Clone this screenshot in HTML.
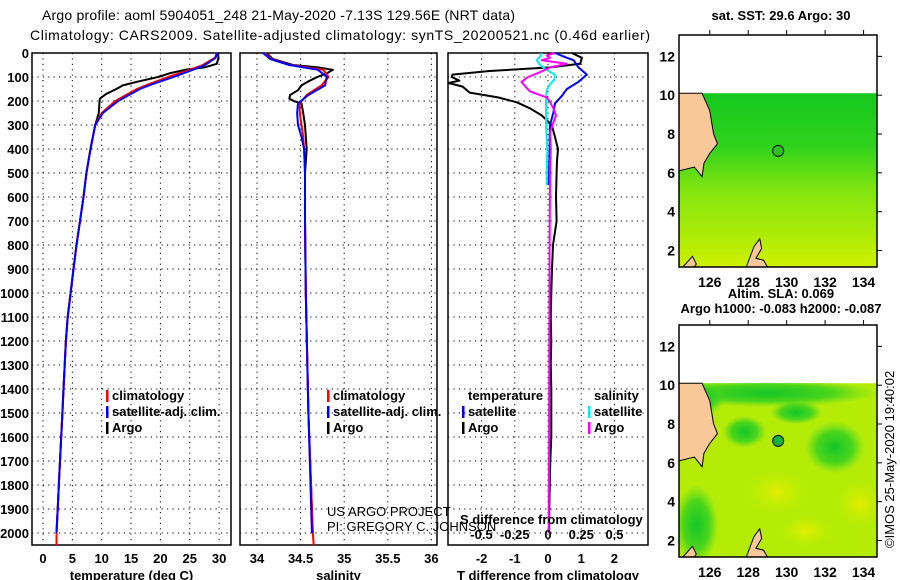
<!DOCTYPE html>
<html><head><meta charset="utf-8"><style>
html,body{margin:0;padding:0;background:#fff;}
svg{display:block;font-family:"Liberation Sans",sans-serif;}
.tk{font-size:13px;font-weight:bold;fill:#000;}
.tt{font-size:14px;fill:#000;}
.lg{font-size:13px;font-weight:bold;fill:#000;}
.grid{stroke:#000;stroke-width:1;stroke-dasharray:1.2 4.2;}
</style></head><body>
<svg id="c" width="900" height="580" viewBox="0 0 900 580" xmlns="http://www.w3.org/2000/svg">
<defs>
<linearGradient id="sstg" x1="0" y1="0" x2="0" y2="1">
<stop offset="0" stop-color="#14c81e"/><stop offset="0.3" stop-color="#2ed21c"/><stop offset="0.55" stop-color="#80e410"/><stop offset="1" stop-color="#cdf000"/>
</linearGradient>
<radialGradient id="y1" cx="0.5" cy="0.5" r="0.5"><stop offset="0" stop-color="#e4ec00"/><stop offset="1" stop-color="#c8f000" stop-opacity="0"/></radialGradient>
<radialGradient id="g1" cx="0.5" cy="0.5" r="0.5"><stop offset="0" stop-color="#12c42a"/><stop offset="0.6" stop-color="#30d020" stop-opacity="0.8"/><stop offset="1" stop-color="#50d820" stop-opacity="0"/></radialGradient>
<clipPath id="fieldclip"><rect x="679" y="383" width="198" height="174"/></clipPath>
</defs>
<text class="tt" x="42" y="20" textLength="473">Argo profile: aoml 5904051_248 21-May-2020 -7.13S 129.56E (NRT data)</text>
<text class="tt" x="30" y="40" textLength="620">Climatology: CARS2009. Satellite-adjusted climatology: synTS_20200521.nc (0.46d earlier)</text>
<g id="panels"></g>
<g id="maps"></g>
<text x="894" y="548" transform="rotate(-90 894 548)" style="font-size:13px">©IMOS 25-May-2020 19:40:02</text>
</svg>
<script>
// depth levels (dbar)
const depthTicks=[0,100,200,300,400,500,600,700,800,900,1000,1100,1200,1300,1400,1500,1600,1700,1800,1900,2000];
const tempTicks=[0,5,10,15,20,25,30];
const salTicks=[34,34.5,35,35.5,36];
const salTickLabels=["34","34.5","35","35.5","36"];
const tdTicks=[-2,-1,0,1,2];
const sdTicks=[-0.5,-0.25,0,0.25,0.5];
const sdTickLabels=["-0.5","-0.25","0","0.25","0.5"];

// temperature profiles
const tArgoD=[0,20,45,60,70,85,100,120,135,150,170,190,210,250,300,400,500,600,700,800,900,1000,1100,1200,1300,1400,1500,1600,1700,1800,1900,2000];
const tArgoV=[29.8,29.9,29.6,27.5,24.2,21.5,19.6,16,13.6,12.5,10.8,9.7,9.6,9.5,8.9,8.1,7.4,6.9,6.3,5.7,5.2,4.7,4.2,3.9,3.7,3.5,3.3,3.1,2.9,2.7,2.5,2.3];
const tClimD=[0,20,50,70,100,130,150,200,250,300,400,500,600,700,800,900,1000,1100,1200,1300,1400,1500,1600,1700,1800,1900,2000,2050];
const tClimV=[29.6,29.3,27.2,25,21.3,18,16,12.3,10,8.9,8.1,7.4,6.9,6.3,5.7,5.2,4.7,4.2,3.9,3.7,3.5,3.3,3.1,2.9,2.7,2.5,2.3,2.3];
const tSatD=[0,20,50,70,100,130,150,200,250,300,400,500,600,700,800,900,1000,1100,1200,1300,1400,1500,1600,1700,1800,1900,2000];
const tSatV=[29.7,29.4,27.6,25.5,22.2,18.6,16.5,12.8,10.2,8.9,8.1,7.4,6.9,6.3,5.7,5.2,4.7,4.2,3.9,3.7,3.5,3.3,3.1,2.9,2.7,2.5,2.3];

// salinity profiles
const sArgoD=[0,25,50,60,70,85,100,120,135,155,175,190,200,210,250,300,350,400,500,700,1000,1500,2000];
const sArgoV=[34.11,34.18,34.41,34.7,34.87,34.8,34.69,34.58,34.51,34.47,34.38,34.37,34.42,34.51,34.53,34.55,34.56,34.57,34.55,34.55,34.56,34.59,34.64];
const sClimD=[0,25,50,70,100,135,175,210,250,300,350,400,500,700,1000,1500,2000,2050];
const sClimV=[34.09,34.16,34.38,34.76,34.82,34.74,34.57,34.49,34.49,34.51,34.53,34.54,34.55,34.55,34.56,34.59,34.64,34.65];
const sSatD=[0,25,50,70,100,135,175,210,250,300,350,400,500,700,1000,1500,2000];
const sSatV=[34.07,34.15,34.37,34.7,34.8,34.78,34.59,34.47,34.46,34.47,34.51,34.54,34.55,34.55,34.56,34.59,34.63];

// difference profiles
const dTArgoD=[0,20,30,45,60,75,90,100,115,125,140,165,185,205,230,260,300,350,400,450,500,600,700,800,900,1000,1100,1200,1300,1400,1500,1600,1700,1800,1900,2000];
const dTArgoV=[0.72,1.02,1.0,0.97,0.06,-1.76,-2.88,-2.9,-2.67,-3.0,-2.57,-2.36,-1.51,-0.95,-0.55,-0.19,0.11,0.21,0.3,0.27,0.26,0.24,0.26,0.15,0.12,0.1,0.08,0.1,0.08,0.1,0.1,0.1,0.07,0.05,0.04,0.03];
const dTSatD=[0,20,30,60,90,120,150,180,210,250,300,350,400,500,550];
const dTSatV=[0.21,0.57,0.77,0.92,1.17,0.92,0.57,0.41,0.21,0.16,0.06,0.05,0.05,0.03,0.02];
const dSSatD=[0,15,30,50,70,90,110,130,155,200,300,400,500,550];
const dSSatV=[-0.047,-0.06,-0.085,-0.06,-0.01,0.05,0.05,0.015,-0.01,-0.015,-0.015,-0.005,-0.01,-0.01];
const dSArgoD=[0,10,20,30,45,60,80,100,120,140,160,185,205,230,260,290,330,400,500,800,1200,1600,2000];
const dSArgoV=[0.05,-0.01,0.015,-0.047,0.14,0.015,-0.06,-0.15,-0.2,-0.17,-0.135,-0.01,0.015,0.04,0.06,0.04,0.015,0.02,0.015,0.012,0.01,0.008,0.005];

// map data
const mapLonTicks=[126,128,130,132,134];
const mapLatTicks=[2,4,6,8,10,12];
const argoLon=129.56, argoLat=7.13;

const NS="http://www.w3.org/2000/svg";
function mk(tag,attrs,parent,text){const e=document.createElementNS(NS,tag);for(const k in attrs)e.setAttribute(k,attrs[k]);if(text!==undefined)e.textContent=text;parent.appendChild(e);return e;}
const P=document.getElementById('panels');
const yD=d=>53+d*0.24;
const TOP=53,BOT=545;

function panel(name,x0,x1,xs,ticks,labels,title){
  const g=mk('g',{},P);
  
  
  depthTicks.forEach(d=>{if(d>0){const l=mk('line',{x1:x0,x2:x1,y1:yD(d),y2:yD(d),class:'grid'},g);}});
  ticks.forEach((t,i)=>{const x=xs(t);const l=mk('line',{x1:x,x2:x,y1:TOP,y2:BOT,class:'grid'},g);
    const tx=mk('text',{x:x,y:563,class:'tk','text-anchor':'middle'},g,labels[i]);});
  const r=mk('rect',{x:x0,y:TOP,width:x1-x0,height:BOT-TOP,fill:'none',stroke:'#000','stroke-width':1.5},g);
  
  const at=mk('text',{x:(x0+x1)/2,y:580,class:'tk','text-anchor':'middle'},g,title);
  
  return g;
}
function line(g,name,D,V,xs,color,w){
  const pts=D.map((d,i)=>xs(V[i]).toFixed(1)+','+yD(d).toFixed(1)).join(' ');
  const p=mk('polyline',{points:pts,fill:'none',stroke:color,'stroke-width':w||2,'stroke-linejoin':'round'},g);
  
  
}
function legend(g,x,y,color,label){
  const r=mk('rect',{x:x-6,y:y-10,width:2.5,height:12,fill:color},g);
  
  const t=mk('text',{x:x,y:y,class:'lg'},g,label);
  
}

// y-axis labels
depthTicks.forEach(d=>{const t=mk('text',{x:29,y:yD(d)+5,class:'tk','text-anchor':'end'},P,String(d));});

// panel 1 temperature
const xT=v=>43+v*5.87;
const g1=panel('temperature-panel',32,231,xT,tempTicks,tempTicks.map(String),'temperature (deg C)');
line(g1,'temp-argo-line',tArgoD,tArgoV,xT,'#000');
line(g1,'temp-climatology-line',tClimD,tClimV,xT,'#f00');
line(g1,'temp-satellite-line',tSatD,tSatV,xT,'#00f');
legend(g1,112,400,'#f00','climatology');
legend(g1,112,416,'#00f','satellite-adj. clim.');
legend(g1,112,432,'#000','Argo');

// panel 2 salinity
const xS=v=>257+(v-34)*87.2;
const g2=panel('salinity-panel',240,437,xS,salTicks,salTickLabels,'salinity');
line(g2,'sal-argo-line',sArgoD,sArgoV,xS,'#000');
line(g2,'sal-climatology-line',sClimD,sClimV,xS,'#f00');
line(g2,'sal-satellite-line',sSatD,sSatV,xS,'#00f');
legend(g2,333,400,'#f00','climatology');
legend(g2,333,416,'#00f','satellite-adj. clim.');
legend(g2,333,432,'#000','Argo');
const c1=mk('text',{x:327,y:516,style:'font-size:13px'},g2,'US ARGO PROJECT');
const c2=mk('text',{x:327,y:531,style:'font-size:13px'},g2,'PI: GREGORY C. JOHNSON');

// panel 3 differences
const xTD=v=>Math.max(448,548+v*33.2);
const xSD=v=>548+v*133;
const g3=panel('difference-panel',448,648,xTD,tdTicks,tdTicks.map(String),'T difference from climatology');
line(g3,'tdiff-argo-line',dTArgoD,dTArgoV,xTD,'#000');
line(g3,'tdiff-satellite-line',dTSatD,dTSatV,xTD,'#00f');
line(g3,'sdiff-satellite-line',dSSatD,dSSatV,xSD,'#0ee');
line(g3,'sdiff-argo-line',dSArgoD,dSArgoV,xSD,'#f0f');
const lt=mk('text',{x:468,y:400,class:'lg'},g3,'temperature');
const ls=mk('text',{x:594,y:400,class:'lg'},g3,'salinity');
legend(g3,468,416,'#00f','satellite');
legend(g3,468,432,'#000','Argo');
legend(g3,594,416,'#0ee','satellite');
legend(g3,594,432,'#f0f','Argo');
const st=mk('text',{x:460,y:524,class:'lg'},g3,'S difference from climatology');
sdTicks.forEach((s,i)=>{const t=mk('text',{x:xSD(s),y:539,class:'lg','text-anchor':'middle'},g3,sdTickLabels[i]);});

// maps
const M=document.getElementById('maps');
function map(name,top,bot,titleLines,second){
  const x0=679,x1=877;
  const lon=v=>x0+(v-124.4)*(x1-x0)/(134.7-124.4);
  const lat=v=>bot-(v-1.15)*(bot-top)/(13.1-1.15);
  const g=mk('g',{},M);
  
  
  const yT=lat(10.1);
  const f=mk('rect',{x:x0,y:yT,width:x1-x0,height:bot-yT,fill:second?'#b4ec08':'url(#sstg)'},g);
  
  if(second){
    const bg=mk('g',{'clip-path':'url(#fieldclip)'},g);
    
    [[129,9.6,110,14,'g1'],[132.5,6.8,30,26,'g1'],[127.8,7.6,22,16,'g1'],[125.3,2.8,22,40,'g1'],[130.5,8.6,26,12,'g1'],[125.5,9.3,25,18,'g1'],[133.8,3.9,24,24,'y1'],[129.5,4.5,30,22,'y1'],[131,2.5,26,16,'y1']].forEach(b=>{
      const e=mk('ellipse',{cx:lon(b[0]),cy:lat(b[1]),rx:b[2],ry:b[3],fill:'url(#'+b[4]+')'},bg);
      
    });
  }
  // land
  const land=[[124.4,10.1],[125.6,10.1],[126,9.2],[126.2,8],[126.4,7.5],[126,7],[125.7,6.5],[125.6,5.8],[125.2,6.3],[124.4,6.1]];
  const pl=mk('polygon',{points:land.map(p=>lon(p[0])+','+lat(p[1])).join(' '),fill:'#f8c898',stroke:'#000','stroke-width':1},g);
  
  const isl=[[127.9,1.15],[128.3,2.2],[128.6,2.6],[128.7,2.1],[128.4,1.6],[128.8,1.5],[129,1.15]];
  const p2=mk('polygon',{points:isl.map(p=>lon(p[0])+','+lat(p[1])).join(' '),fill:'#f8c898',stroke:'#000','stroke-width':1},g);
  
  const isl2=[[124.6,1.15],[125.1,1.7],[125.3,1.3],[125.2,1.15]];
  const p3=mk('polygon',{points:isl2.map(p=>lon(p[0])+','+lat(p[1])).join(' '),fill:'#f8c898',stroke:'#000','stroke-width':1},g);
  
  const fr=mk('rect',{x:x0,y:top,width:x1-x0,height:bot-top,fill:'none',stroke:'#000','stroke-width':1.5},g);
  
  const ci=mk('circle',{cx:lon(argoLon),cy:lat(argoLat),r:5.5,fill:second?'#14b040':'#30c020',stroke:'#000','stroke-width':1},g);
  
  mapLonTicks.forEach(v=>{
    const l=mk('line',{x1:lon(v),x2:lon(v),y1:top-5,y2:top,stroke:'#000'},g);
    const t=mk('text',{x:lon(v),y:bot+20,class:'tk','text-anchor':'middle',style:'font-size:14px'},g,String(v));
  });
  mapLatTicks.forEach(v=>{
    const l=mk('line',{x1:x1,x2:x1+5,y1:lat(v),y2:lat(v),stroke:'#000'},g);
    const t=mk('text',{x:675,y:lat(v)+5,class:'tk','text-anchor':'end',style:'font-size:14px'},g,String(v));
  });
  titleLines.forEach(tl=>{const t=mk('text',{x:781,y:tl[1],class:'lg','text-anchor':'middle'},g,tl[0]);});
}
map('sst-map',35,267,[['sat. SST: 29.6 Argo: 30',20]],false);
map('sla-map',325,557,[['Altim. SLA: 0.069',298],['Argo h1000: -0.083 h2000: -0.087',313]],true);
</script>
</body></html>
